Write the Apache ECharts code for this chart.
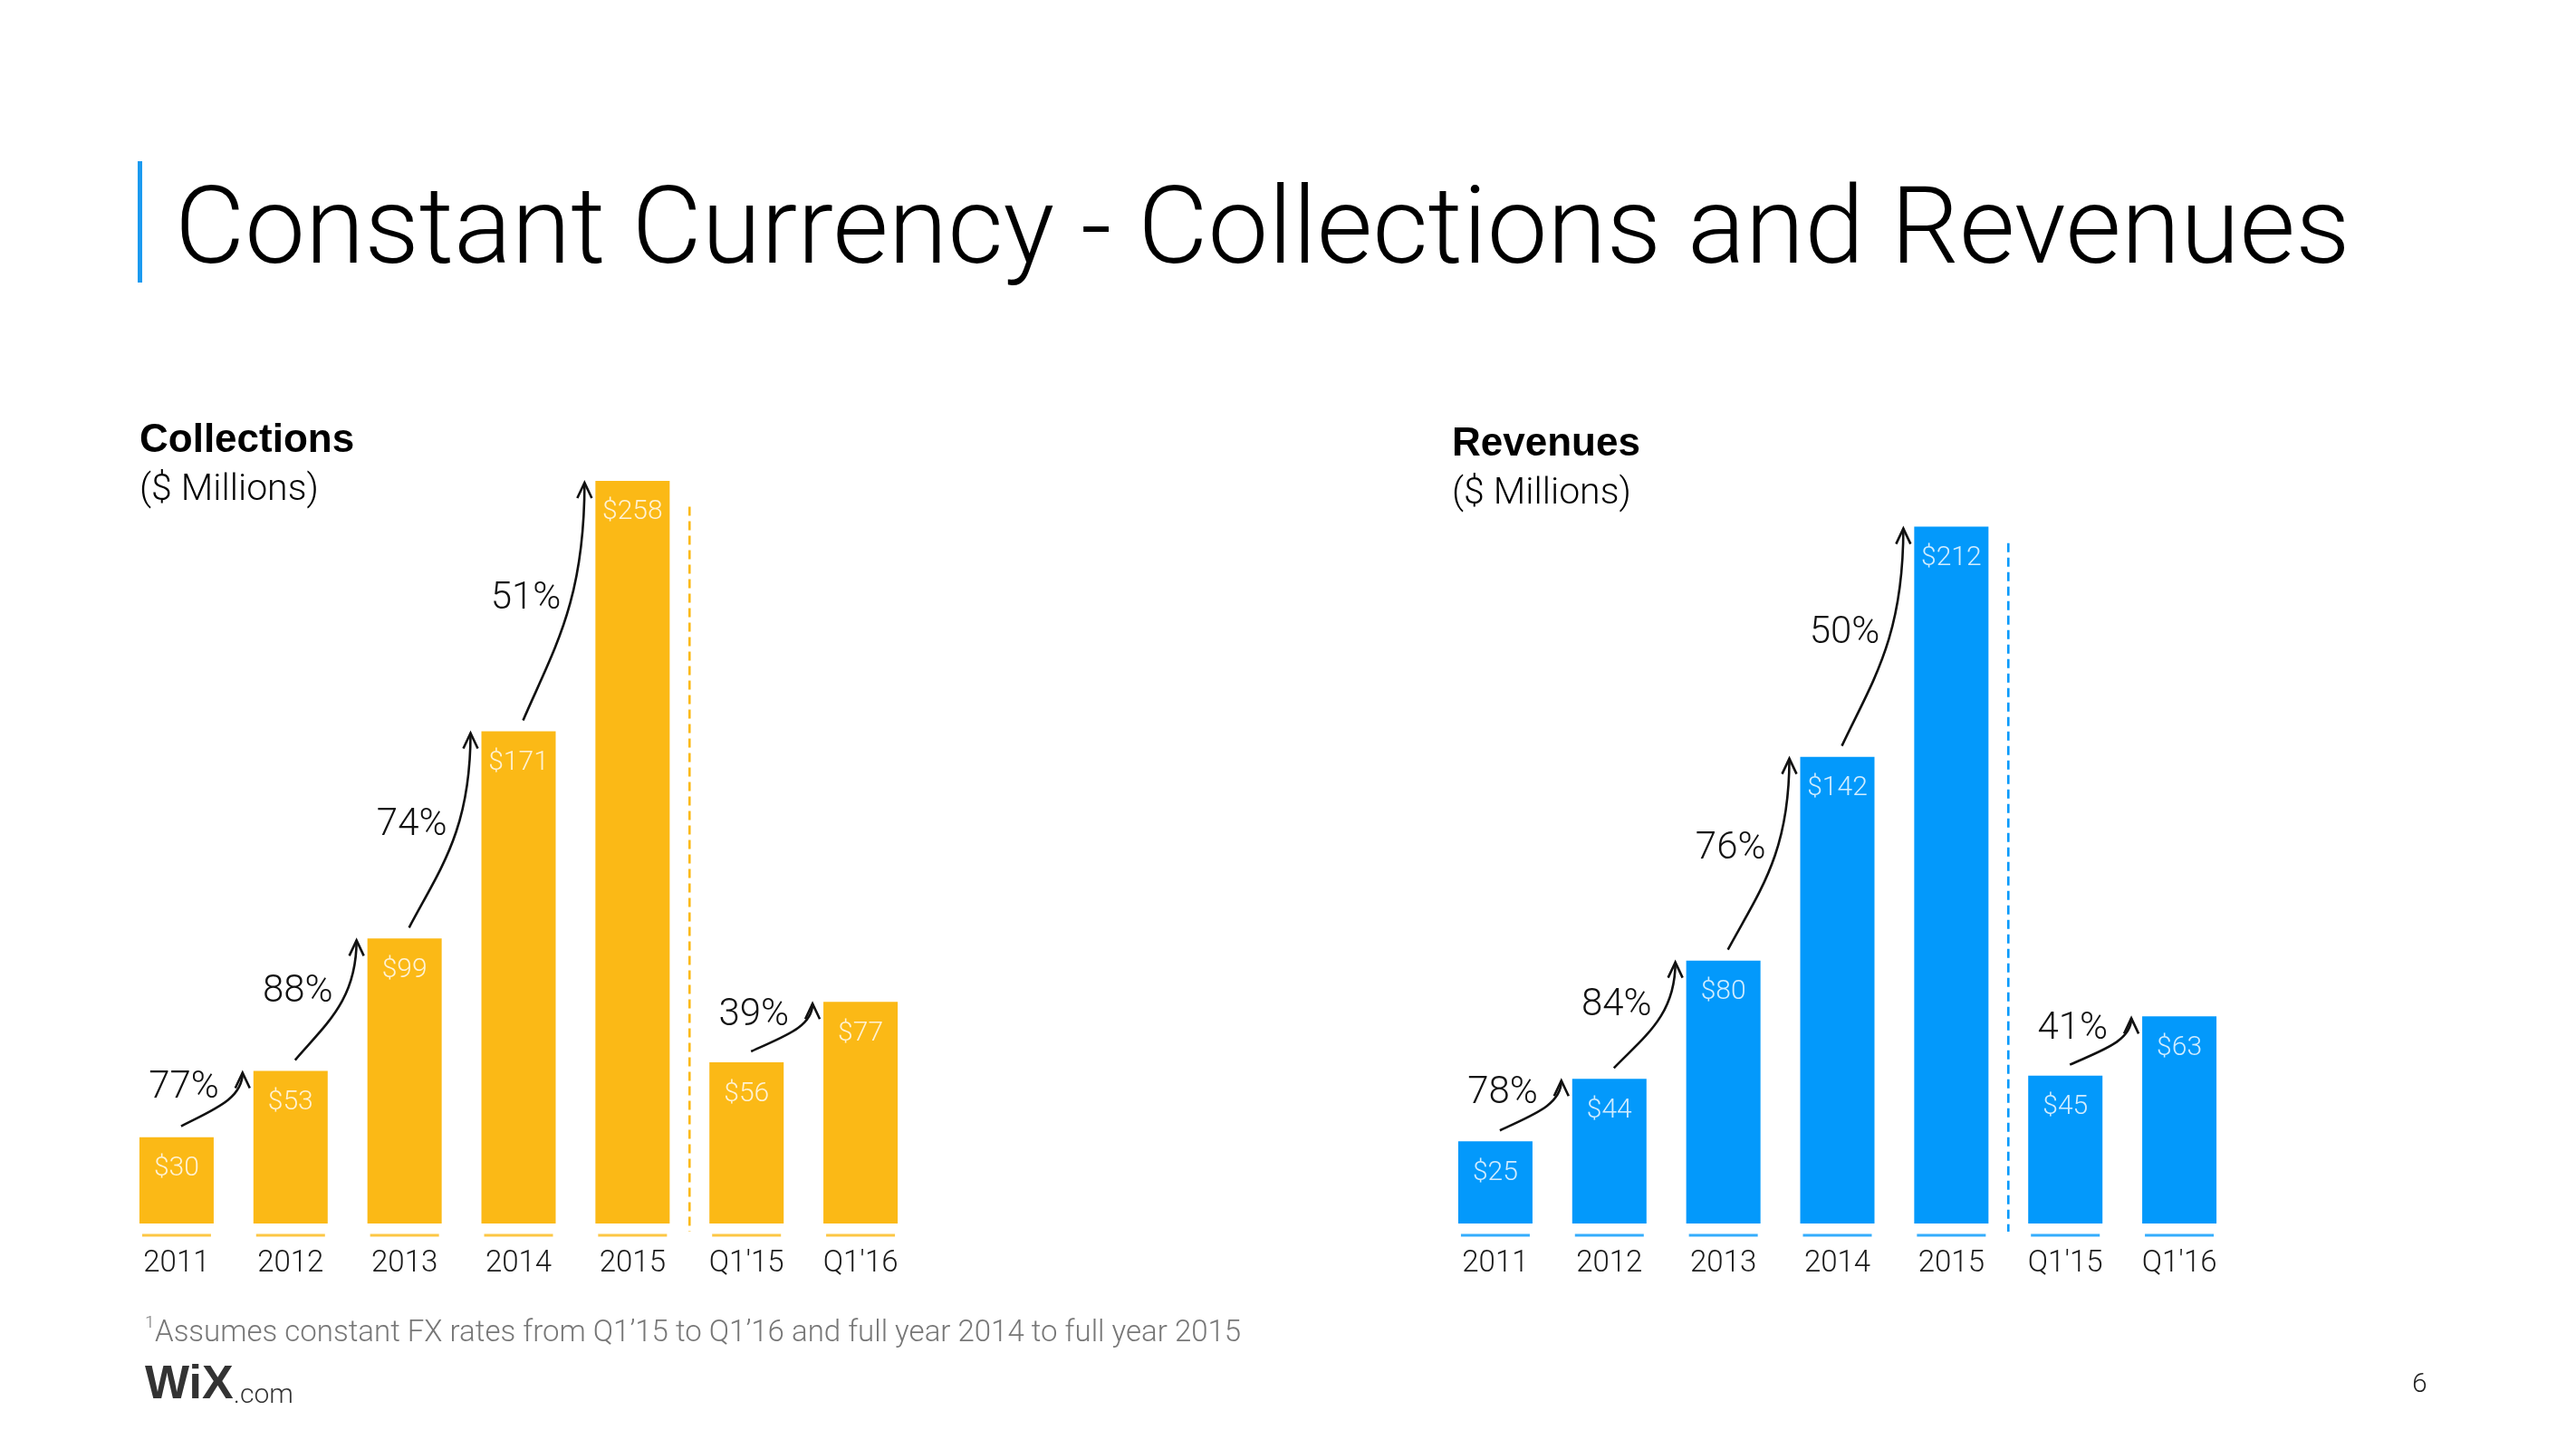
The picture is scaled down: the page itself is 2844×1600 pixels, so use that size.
<!DOCTYPE html>
<html>
<head>
<meta charset="utf-8">
<script src="https://cdn.jsdelivr.net/npm/echarts@6/dist/echarts.min.js"></script>
<style>
html,body{margin:0;padding:0;background:#fff;}
#chart{width:2844px;height:1600px;}
</style>
</head>
<body>
<div id="chart"></div>
<script>
const categories = ['2011', '2012', '2013', '2014', '2015', "Q1'15", "Q1'16"];
const collections = [30, 53, 99, 171, 258, 56, 77];
const revenues = [25, 44, 80, 142, 212, 45, 63];
const collectionsGrowth = ['77%', '88%', '74%', '51%', null, '39%'];
const revenuesGrowth = ['78%', '84%', '76%', '50%', null, '41%'];
const dividerAfter = 4; // divider between 2015 and Q1'15

const YELLOW = '#FBB916';
const BLUE = '#0399FB';
const FONT = 'Roboto';
const BAR_W = 82;

const chart = echarts.init(document.getElementById('chart'));

function arrowData(values, growth) {
  const d = [], labels = [];
  growth.forEach((g, i) => { if (g) { d.push([i, values[i], values[i + 1]]); labels.push(g); } });
  return { data: d, labels: labels };
}

function arrowRender(labels) {
  return function (params, api) {
    const i = api.value(0);
    const t0 = api.coord([i, api.value(1)]);
    const t1 = api.coord([i + 1, api.value(2)]);
    const S = [t0[0] + 5, t0[1] - 12];
    const E = [t1[0] - BAR_W / 2 - 12, t1[1] + 2];
    const dx = E[0] - S[0], dy = S[1] - E[1];
    const label = labels[params.dataIndex];
    return {
      type: 'group',
      children: [
        { type: 'bezierCurve', shape: { x1: S[0], y1: S[1], cpx1: S[0] + 0.5 * dx, cpy1: S[1] - 0.3 * dy, cpx2: E[0], cpy2: E[1] + 0.5 * dy, x2: E[0], y2: E[1] },
          style: { stroke: '#111', lineWidth: 2.6, fill: null } },
        { type: 'polyline', shape: { points: [[E[0] - 8, E[1] + 17], [E[0], E[1]], [E[0] + 8, E[1] + 17]] },
          style: { stroke: '#111', lineWidth: 2.6, fill: null } },
        { type: 'text', x: E[0] - 26, y: S[1] - (0.45 * dy + 16),
          style: { text: label, fontSize: 42, fontFamily: FONT, fontWeight: 300, fill: '#111', align: 'right', verticalAlign: 'middle' } }
      ]
    };
  };
}

function dividerRender(color) {
  return function (params, api) {
    const a = api.coord([api.value(0), api.value(1)]);
    const b = api.coord([api.value(0) + 1, 0]);
    const x = (a[0] + b[0]) / 2;
    return { type: 'line', shape: { x1: x, y1: a[1], x2: x, y2: b[1] + 9 },
      style: { stroke: color, lineWidth: 2.6, lineDash: [10, 6], fill: null } };
  };
}

function makeSeries(idx, values, growth, color, dividerTop) {
  const arrows = arrowData(values, growth);
  return [
    { type: 'bar', xAxisIndex: idx, yAxisIndex: idx, data: values, barWidth: BAR_W,
      itemStyle: { color: color },
      label: { show: true, position: 'insideTop', distance: 20, formatter: p => '$' + p.value,
        color: 'rgba(255,255,255,0.82)', fontSize: 30, fontFamily: FONT, fontWeight: 300 },
      silent: true, animation: false },
    { type: 'scatter', xAxisIndex: idx, yAxisIndex: idx, data: values.map(() => 0),
      symbol: 'rect', symbolSize: [76, 3], symbolOffset: [0, 13], itemStyle: { color: color },
      silent: true, animation: false, z: 1 },
    { type: 'custom', xAxisIndex: idx, yAxisIndex: idx, data: arrows.data,
      renderItem: arrowRender(arrows.labels), silent: true, animation: false, z: 5, clip: false },
    { type: 'custom', xAxisIndex: idx, yAxisIndex: idx, data: [[dividerAfter, dividerTop]],
      renderItem: dividerRender(color), silent: true, animation: false, clip: false, z: 4 }
  ];
}

const xAxisCommon = {
  type: 'category', data: categories,
  axisLine: { show: false }, axisTick: { show: false },
  axisLabel: { fontSize: 33, color: '#1a1a1a', fontFamily: FONT, fontWeight: 300, margin: 28, interval: 0 }
};

const option = {
  backgroundColor: '#fff',
  animation: false,
  grid: [
    { left: 132, top: 461, width: 881, height: 890 },
    { left: 1588, top: 480, width: 881, height: 871 }
  ],
  xAxis: [
    Object.assign({ gridIndex: 0 }, xAxisCommon),
    Object.assign({ gridIndex: 1 }, xAxisCommon)
  ],
  yAxis: [
    { gridIndex: 0, type: 'value', min: 0, max: 280, show: false },
    { gridIndex: 1, type: 'value', min: 0, max: 240, show: false }
  ],
  series: [].concat(
    makeSeries(0, collections, collectionsGrowth, YELLOW, 249),
    makeSeries(1, revenues, revenuesGrowth, BLUE, 207)
  ),
  graphic: [
    { type: 'rect', shape: { x: 152, y: 178, width: 5, height: 134 }, style: { fill: '#1B9AF0' } },
    { type: 'text', x: 193, y: 260, style: { text: 'Constant Currency - Collections and Revenues', fontSize: 119, fontFamily: FONT, fontWeight: 300, fill: '#000', verticalAlign: 'middle' } },
    { type: 'text', x: 154, y: 487, style: { text: 'Collections', fontSize: 44, fontFamily: 'Liberation Sans', fontWeight: 'bold', fill: '#000', verticalAlign: 'middle' } },
    { type: 'text', x: 154, y: 542, style: { text: '($ Millions)', fontSize: 41, fontFamily: FONT, fontWeight: 300, fill: '#000', verticalAlign: 'middle' } },
    { type: 'text', x: 1603, y: 491, style: { text: 'Revenues', fontSize: 44, fontFamily: 'Liberation Sans', fontWeight: 'bold', fill: '#000', verticalAlign: 'middle' } },
    { type: 'text', x: 1603, y: 546, style: { text: '($ Millions)', fontSize: 41, fontFamily: FONT, fontWeight: 300, fill: '#000', verticalAlign: 'middle' } },
    { type: 'text', x: 160, y: 1461, style: { text: '1', fontSize: 19, fontFamily: FONT, fontWeight: 300, fill: '#777', verticalAlign: 'middle' } },
    { type: 'text', x: 171, y: 1473, style: { text: "Assumes constant FX rates from Q1\u201915 to Q1\u201916 and full year 2014 to full year 2015", fontSize: 33, fontFamily: FONT, fontWeight: 300, fill: '#777', verticalAlign: 'middle' } },
    { type: 'text', x: 160, y: 1530, style: { text: '{b|WiX}{c|.com}', verticalAlign: 'middle',
        rich: { b: { fontSize: 52, fontFamily: 'Liberation Sans', fontWeight: 'bold', fill: '#333', verticalAlign: 'bottom' },
                c: { fontSize: 30, fontFamily: FONT, fontWeight: 300, fill: '#333', verticalAlign: 'bottom' } } } },
    { type: 'text', x: 2663, y: 1529, style: { text: '6', fontSize: 30, fontFamily: FONT, fontWeight: 300, fill: '#222', verticalAlign: 'middle' } }
  ]
};
chart.setOption(option);
</script>
</body>
</html>
